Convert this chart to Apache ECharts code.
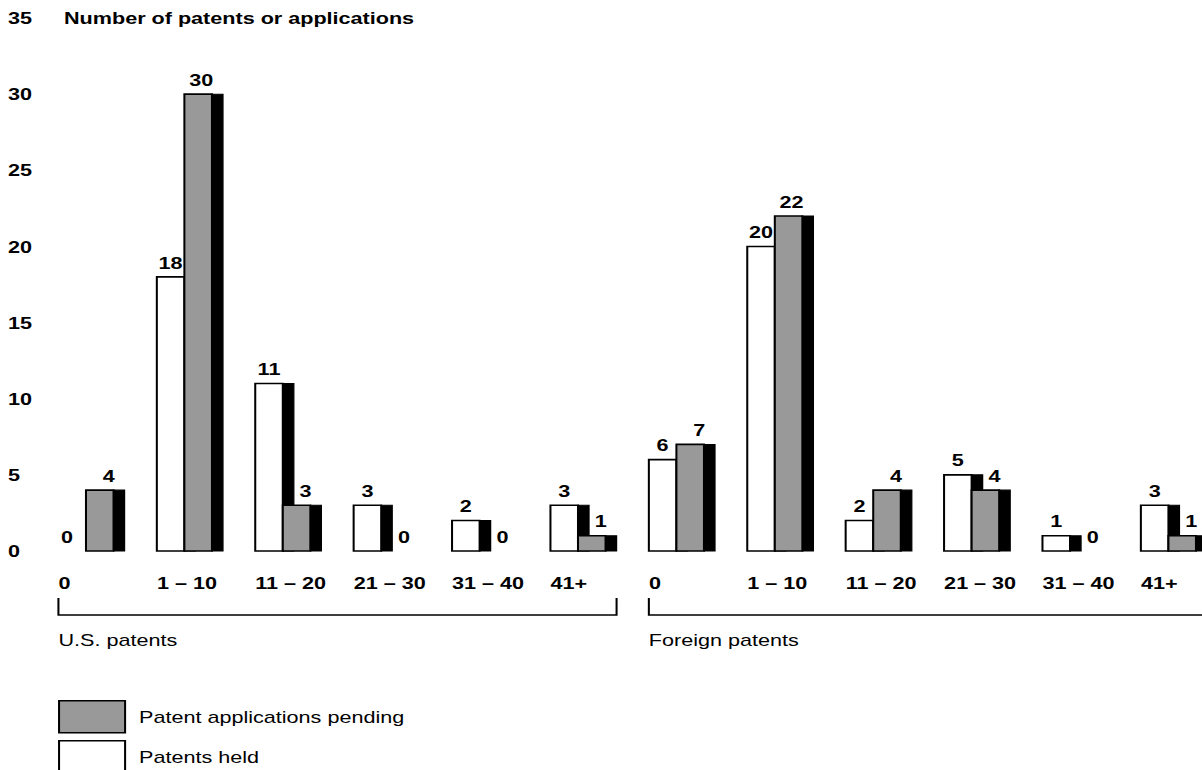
<!DOCTYPE html>
<html>
<head>
<meta charset="utf-8">
<script src="https://cdn.jsdelivr.net/npm/echarts@6/dist/echarts.min.js"></script>
<style>
  html, body { margin: 0; padding: 0; background: #fff; overflow: hidden; }
  /* the chart is laid out narrow and widened horizontally, giving the broad lettering;
     the last bar group runs off the right edge */
  #chart { width: 966px; height: 770px; transform: scaleX(1.27); transform-origin: 0 0; }
</style>
</head>
<body>
<div id="chart"></div>
<script>
// Patent-count buckets: six for U.S. patents, six for foreign patents
const categories = ['0', '1 – 10', '11 – 20', '21 – 30', '31 – 40', '41+',
                    '0', '1 – 10', '11 – 20', '21 – 30', '31 – 40', '41+'];
const heldValues = [0, 18, 11, 3, 2, 3, 6, 20, 2, 5, 1, 3];
const pendingValues = [4, 30, 3, 0, 0, 1, 7, 22, 4, 4, 0, 1];
const groupNames = ['U.S. patents', 'Foreign patents'];
const groupRanges = [[0, 5], [6, 11]];
const yTicks = [0, 5, 10, 15, 20, 25, 30, 35];
const seriesNames = ['Patents held', 'Patent applications pending'];
const axisTitle = 'Number of patents or applications';

const FONT = '"Liberation Sans", Arial, Helvetica, sans-serif';
const FS = 17;
const GRAY = '#999999';
const FACE = 0.28, STRIP = 0.112;

function geometry(api, i, v) {
  const base = api.coord([i, 0]);
  const top = api.coord([i, v])[1];
  const bw = api.size([1, 0])[0];
  const face = bw * FACE, strip = bw * STRIP;
  const x0 = base[0] - (face * 2 + strip) / 2;
  return { x0, face, strip, top, bottom: base[1] };
}

function valueText(x, y, v, align) {
  return {
    type: 'text', z2: 10,
    style: { x, y, text: String(v), align, verticalAlign: 'bottom',
      font: 'bold ' + FS + 'px ' + FONT, fill: '#000' }
  };
}

function bar(x, g, fill) {
  const h = g.bottom - g.top;
  return [
    { type: 'rect', shape: { x: x + g.face, y: g.top, width: g.strip, height: h },
      style: { fill: '#000', stroke: '#000', lineWidth: 1 } },
    { type: 'rect', shape: { x, y: g.top, width: g.face, height: h },
      style: { fill, stroke: '#000', lineWidth: 1.6 } }
  ];
}

function renderHeld(params, api) {
  const i = api.value(0), v = api.value(1);
  const g = geometry(api, i, v);
  const children = v > 0 ? bar(g.x0, g, '#ffffff') : [];
  const shift = v === 0 ? -4 : 0;
  children.push(valueText(g.x0 + g.face / 2 + shift, g.top - 6, v, 'center'));
  return { type: 'group', children };
}

function renderPending(params, api) {
  const i = api.value(0), v = api.value(1);
  const g = geometry(api, i, v);
  const x1 = g.x0 + g.face;
  const children = v > 0 ? bar(x1, g, GRAY) : [];
  children.push(valueText(x1 + g.face + 1, g.top - 6, v, 'right'));
  return { type: 'group', children };
}

function renderBracket(params, api) {
  const a = api.value(0), b = api.value(2);
  const bw = api.size([1, 0])[0];
  const half = bw * (FACE * 2 + STRIP) / 2;
  const p0 = api.coord([a, 0]), p1 = api.coord([b, 0]);
  const left = p0[0] - half, right = p1[0] + half;
  const y0 = p0[1] + 47, y1 = p0[1] + 64;
  return {
    type: 'group',
    children: [
      { type: 'polyline', shape: { points: [[left, y0], [left, y1], [right, y1], [right, y0]] },
        style: { stroke: '#000', lineWidth: 1.6, fill: null } },
      { type: 'text', style: { x: left, y: p0[1] + 89, text: groupNames[params.dataIndex],
          align: 'left', verticalAlign: 'middle', font: FS + 'px ' + FONT, fill: '#000' } }
    ]
  };
}

function legendBox(name, color, top) {
  return {
    orient: 'vertical', left: 45.7, top, padding: 0,
    itemWidth: 52, itemHeight: 32, icon: 'rect', selectedMode: false,
    data: [{ name, itemStyle: { color, borderColor: '#000', borderWidth: 1.6 } }],
    formatter: n => '{t|' + n + '}',
    textStyle: { rich: { t: { padding: [0, 0, 0, 6], fontFamily: FONT, fontSize: FS, color: '#000' } } }
  };
}

const chart = echarts.init(document.getElementById('chart'), null, { renderer: 'svg' });
chart.setOption({
  animation: false,
  backgroundColor: '#ffffff',
  textStyle: { fontFamily: FONT },
  title: {
    text: axisTitle, left: 50.4, top: 9.5, padding: 0,
    textStyle: { fontFamily: FONT, fontWeight: 'bold', fontSize: FS, color: '#000' }
  },
  grid: { left: 33.3, top: 18, width: 929.8, height: 533 },
  xAxis: {
    type: 'category', data: categories,
    axisLine: { show: false }, axisTick: { show: false }, splitLine: { show: false },
    axisLabel: {
      interval: 0, margin: 23, align: 'center',
      formatter: v => '{t|' + v + '}',
      rich: { t: { width: 52, align: 'left', fontFamily: FONT, fontWeight: 'bold',
                   fontSize: FS, lineHeight: 17, color: '#000' } }
    }
  },
  yAxis: {
    type: 'value', min: yTicks[0], max: yTicks[yTicks.length - 1], interval: yTicks[1] - yTicks[0],
    axisLine: { show: false }, axisTick: { show: false }, splitLine: { show: false },
    axisLabel: { align: 'left', margin: 27, fontFamily: FONT, fontWeight: 'bold',
                 fontSize: FS, color: '#000' }
  },
  legend: [
    legendBox(seriesNames[1], GRAY, 700),
    legendBox(seriesNames[0], '#ffffff', 740)
  ],
  series: [
    {
      name: seriesNames[0], type: 'custom', renderItem: renderHeld, silent: true,
      itemStyle: { color: '#ffffff', borderColor: '#000', borderWidth: 1.6 },
      encode: { x: 0, y: 1 },
      data: heldValues.map((v, i) => [i, v])
    },
    {
      name: seriesNames[1], type: 'custom', renderItem: renderPending, silent: true,
      itemStyle: { color: GRAY, borderColor: '#000', borderWidth: 1.6 },
      encode: { x: 0, y: 1 },
      data: pendingValues.map((v, i) => [i, v])
    },
    {
      name: 'groups', type: 'custom', renderItem: renderBracket, silent: true,
      encode: { x: 0, y: 1 },
      data: groupRanges.map(r => [r[0], 0, r[1]])
    }
  ]
});
</script>
</body>
</html>
